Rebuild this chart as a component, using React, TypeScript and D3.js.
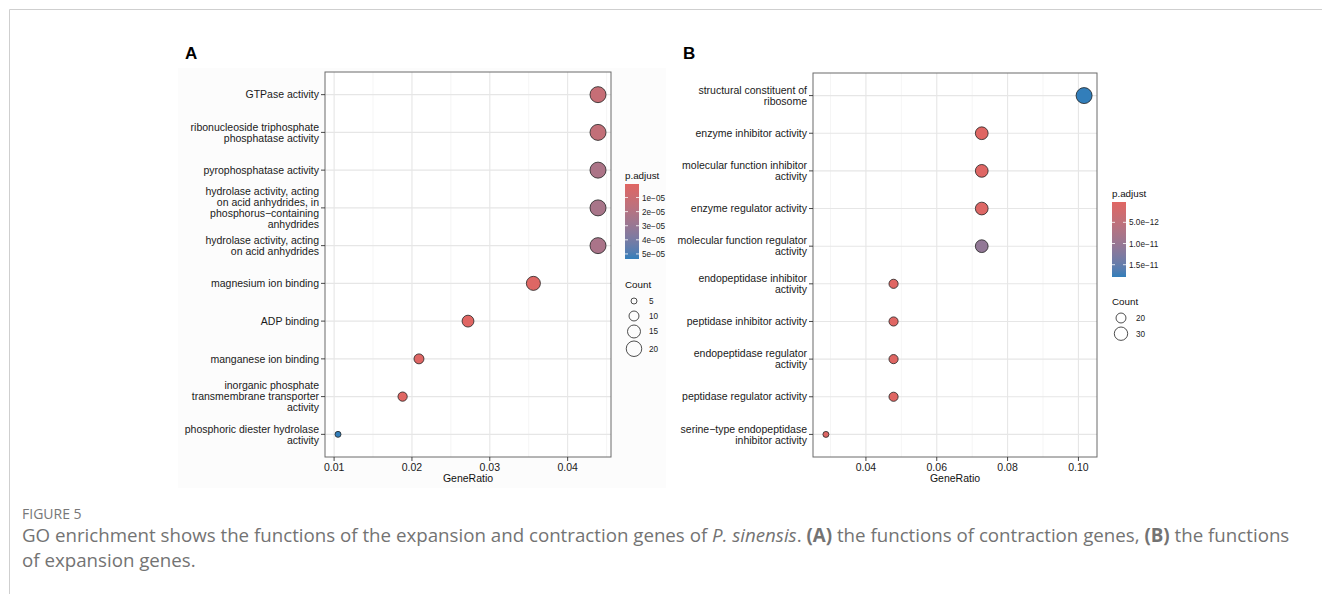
import React, { useEffect, useRef } from "react";
import * as d3 from "d3";

// panel A - contraction genes
const termsA = [
  "GTPase activity",
  "ribonucleoside triphosphate\nphosphatase activity",
  "pyrophosphatase activity",
  "hydrolase activity, acting\non acid anhydrides, in\nphosphorus\u2212containing\nanhydrides",
  "hydrolase activity, acting\non acid anhydrides",
  "magnesium ion binding",
  "ADP binding",
  "manganese ion binding",
  "inorganic phosphate\ntransmembrane transporter\nactivity",
  "phosphoric diester hydrolase\nactivity",
];
const ratioA = [0.0439, 0.0439, 0.0439, 0.0439, 0.0439, 0.0356, 0.0272, 0.0209, 0.0188, 0.0105];
const countA = [21, 21, 21, 21, 21, 17, 13, 10, 9, 5];
const padjA = [1.2e-5, 1.35e-5, 2.25e-5, 2.4e-5, 2.35e-5, 1.2e-6, 6e-7, 9e-7, 4e-7, 5.36e-5];
const xTicksA = [0.01, 0.02, 0.03, 0.04];
const xLabelsA = ["0.01", "0.02", "0.03", "0.04"];
const padjTicksA = [1e-5, 2e-5, 3e-5, 4e-5, 5e-5];
const padjLabelsA = ["1e\u221205", "2e\u221205", "3e\u221205", "4e\u221205", "5e\u221205"];
const countBreaksA = [5, 10, 15, 20];

// panel B - expansion genes
const termsB = [
  "structural constituent of\nribosome",
  "enzyme inhibitor activity",
  "molecular function inhibitor\nactivity",
  "enzyme regulator activity",
  "molecular function regulator\nactivity",
  "endopeptidase inhibitor\nactivity",
  "peptidase inhibitor activity",
  "endopeptidase regulator\nactivity",
  "peptidase regulator activity",
  "serine\u2212type endopeptidase\ninhibitor activity",
];
const ratioB = [0.1016, 0.0727, 0.0727, 0.0727, 0.0727, 0.0478, 0.0478, 0.0478, 0.0478, 0.0287];
const countB = [39, 28, 28, 28, 28, 18, 18, 18, 18, 11];
const padjB = [1.79e-11, 3e-13, 4e-13, 6e-13, 1.07e-11, 2e-13, 2e-13, 3e-13, 3e-13, 5e-13];
const xTicksB = [0.04, 0.06, 0.08, 0.1];
const xLabelsB = ["0.04", "0.06", "0.08", "0.10"];
const padjTicksB = [5e-12, 1e-11, 1.5e-11];
const padjLabelsB = ["5.0e\u221212", "1.0e\u221211", "1.5e\u221211"];
const countBreaksB = [20, 30];

const LOW = "#e06663";
const HIGH = "#327eba";
const FONT = "Liberation Sans, Arial, sans-serif";

function drawPanel(svg: any, o: any) {
  const g = svg.append("g");
  const lo = d3.min(o.ratio) as number;
  const hi = d3.max(o.ratio) as number;
  const pad = (hi - lo) * 0.05;
  const x = d3.scaleLinear().domain([lo - pad, hi + pad]).range([o.left, o.right]);
  const y = d3.scalePoint().domain(o.terms).range([o.top, o.bottom]).padding(0.6);
  const pMin = d3.min(o.padj) as number;
  const pMax = d3.max(o.padj) as number;
  const color = d3.scaleLinear<string>().domain([pMin, pMax]).range([LOW, HIGH]).interpolate(d3.interpolateLab);
  const size = d3.scaleSqrt().domain([d3.min(o.count) as number, d3.max(o.count) as number]).range([3, 8]);

  g.append("text").attr("x", o.tagX).attr("y", o.tagY).attr("font-family", FONT)
    .attr("font-weight", "bold").attr("font-size", 17).attr("fill", "#000").text(o.tag);

  g.append("rect").attr("x", o.left).attr("y", o.top).attr("width", o.right - o.left)
    .attr("height", o.bottom - o.top).attr("fill", "#fff");

  // minor grid
  const step = o.xTicks[1] - o.xTicks[0];
  const dom = x.domain();
  const minor = [o.xTicks[0] - step / 2, ...o.xTicks.map((t: number) => t + step / 2)]
    .filter((v: number) => v > dom[0] && v < dom[1]);
  g.selectAll(".minor").data(minor).enter().append("line")
    .attr("x1", (d: number) => x(d)).attr("x2", (d: number) => x(d))
    .attr("y1", o.top).attr("y2", o.bottom).attr("stroke", "#efefef").attr("stroke-width", 0.6);
  g.selectAll(".majx").data(o.xTicks).enter().append("line")
    .attr("x1", (d: number) => x(d)).attr("x2", (d: number) => x(d))
    .attr("y1", o.top).attr("y2", o.bottom).attr("stroke", "#e6e6e6").attr("stroke-width", 1.1);
  g.selectAll(".majy").data(o.terms).enter().append("line")
    .attr("x1", o.left).attr("x2", o.right)
    .attr("y1", (d: string) => y(d)).attr("y2", (d: string) => y(d))
    .attr("stroke", "#e6e6e6").attr("stroke-width", 1.1);

  // dots
  g.selectAll(".dot").data(o.terms).enter().append("circle")
    .attr("cx", (_d: string, i: number) => x(o.ratio[i]))
    .attr("cy", (d: string) => y(d))
    .attr("r", (_d: string, i: number) => size(o.count[i]))
    .attr("fill", (_d: string, i: number) => color(o.padj[i]))
    .attr("stroke", "#222").attr("stroke-width", 0.8);

  g.append("rect").attr("x", o.left).attr("y", o.top).attr("width", o.right - o.left)
    .attr("height", o.bottom - o.top).attr("fill", "none").attr("stroke", "#6b6b6b").attr("stroke-width", 1);

  // y axis
  const lh = 11;
  o.terms.forEach((t: string) => {
    const yy = y(t) as number;
    g.append("line").attr("x1", o.left - 4).attr("x2", o.left).attr("y1", yy).attr("y2", yy)
      .attr("stroke", "#333").attr("stroke-width", 0.9);
    const lines = t.split("\n");
    const txt = g.append("text").attr("font-family", FONT).attr("font-size", 10.5)
      .attr("fill", "#1a1a1a").attr("text-anchor", "end");
    lines.forEach((l, k) => {
      txt.append("tspan").attr("x", o.left - 6)
        .attr("y", yy + (k - (lines.length - 1) / 2) * lh + 3.7).text(l);
    });
  });

  // x axis
  o.xTicks.forEach((t: number, i: number) => {
    g.append("line").attr("x1", x(t)).attr("x2", x(t)).attr("y1", o.bottom).attr("y2", o.bottom + 4)
      .attr("stroke", "#333").attr("stroke-width", 0.9);
    g.append("text").attr("x", x(t)).attr("y", o.bottom + 14).attr("text-anchor", "middle")
      .attr("font-family", FONT).attr("font-size", 10.5).attr("fill", "#1a1a1a").text(o.xLabels[i]);
  });
  g.append("text").attr("x", (o.left + o.right) / 2).attr("y", o.bottom + 25)
    .attr("text-anchor", "middle").attr("font-family", FONT).attr("font-size", 10.5)
    .attr("fill", "#111").text("GeneRatio");

  // colour bar
  const gid = "grad" + o.tag;
  const grad = svg.append("defs").append("linearGradient").attr("id", gid)
    .attr("x1", 0).attr("x2", 0).attr("y1", 0).attr("y2", 1);
  d3.range(0, 1.0001, 0.1).forEach((s) => {
    grad.append("stop").attr("offset", s).attr("stop-color", color(pMin + s * (pMax - pMin)));
  });
  const lx = o.legendX;
  g.append("text").attr("x", lx).attr("y", o.barTop - 5).attr("font-family", FONT)
    .attr("font-size", 9.8).attr("fill", "#111").text("p.adjust");
  g.append("rect").attr("x", lx).attr("y", o.barTop).attr("width", 14).attr("height", 75)
    .attr("fill", `url(#${gid})`);
  const py = d3.scaleLinear().domain([pMin, pMax]).range([o.barTop, o.barTop + 75]);
  o.padjTicks.forEach((t: number, i: number) => {
    const yy = py(t);
    g.append("line").attr("x1", lx).attr("x2", lx + 3).attr("y1", yy).attr("y2", yy)
      .attr("stroke", "#fff").attr("stroke-width", 0.8);
    g.append("line").attr("x1", lx + 11).attr("x2", lx + 14).attr("y1", yy).attr("y2", yy)
      .attr("stroke", "#fff").attr("stroke-width", 0.8);
    g.append("text").attr("x", lx + 17).attr("y", yy + 3).attr("font-family", FONT)
      .attr("font-size", 8.2).attr("fill", "#222").text(o.padjLabels[i]);
  });

  // size legend
  g.append("text").attr("x", lx).attr("y", o.countTop).attr("font-family", FONT)
    .attr("font-size", 9.8).attr("fill", "#111").text("Count");
  let cy = o.countTop + 13;
  let prevH = 0;
  o.countBreaks.forEach((c: number, i: number) => {
    const r = size(c);
    const h = Math.max(15, 2 * r + 3);
    cy += i === 0 ? 0 : prevH / 2 + h / 2;
    prevH = h;
    g.append("circle").attr("cx", lx + 9).attr("cy", cy).attr("r", r)
      .attr("fill", "none").attr("stroke", "#222").attr("stroke-width", 0.8);
    g.append("text").attr("x", lx + 24).attr("y", cy + 3).attr("font-family", FONT)
      .attr("font-size", 8.2).attr("fill", "#222").text(String(c));
  });
}

export default function App() {
  const ref = useRef<SVGSVGElement>(null);

  useEffect(() => {
    const svg = d3.select(ref.current);
    svg.selectAll("*").remove();

    svg.append("line").attr("x1", 9.5).attr("x2", 1322).attr("y1", 9.5).attr("y2", 9.5)
      .attr("stroke", "#cfcfcf");
    svg.append("line").attr("x1", 9.5).attr("x2", 9.5).attr("y1", 9.5).attr("y2", 594)
      .attr("stroke", "#cfcfcf");
    svg.append("rect").attr("x", 178).attr("y", 68).attr("width", 488).attr("height", 420)
      .attr("fill", "#fcfcfc");

    drawPanel(svg, {
      tag: "A", tagX: 185, tagY: 59, terms: termsA, ratio: ratioA, count: countA, padj: padjA,
      xTicks: xTicksA, xLabels: xLabelsA, padjTicks: padjTicksA, padjLabels: padjLabelsA,
      countBreaks: countBreaksA, left: 325, right: 611, top: 72, bottom: 457,
      legendX: 625, barTop: 184, countTop: 288,
    });
    drawPanel(svg, {
      tag: "B", tagX: 683, tagY: 59, terms: termsB, ratio: ratioB, count: countB, padj: padjB,
      xTicks: xTicksB, xLabels: xLabelsB, padjTicks: padjTicksB, padjLabels: padjLabelsB,
      countBreaks: countBreaksB, left: 813, right: 1097, top: 73, bottom: 457,
      legendX: 1112, barTop: 202, countTop: 305,
    });

    // caption
    const capFont = "Open Sans, Lato, sans-serif";
    svg.append("text").attr("x", 22).attr("y", 519).attr("font-family", capFont)
      .attr("font-size", 14).attr("fill", "#777").text("FIGURE 5");
    const l1 = svg.append("text").attr("x", 22).attr("y", 542).attr("font-family", capFont)
      .attr("font-size", 16.5).attr("fill", "#737373");
    l1.append("tspan").text("GO enrichment shows the functions of the expansion and contraction genes of ");
    l1.append("tspan").attr("font-style", "italic").text("P. sinensis");
    l1.append("tspan").text(". ");
    l1.append("tspan").attr("font-weight", "bold").text("(A)");
    l1.append("tspan").text(" the functions of contraction genes, ");
    l1.append("tspan").attr("font-weight", "bold").text("(B)");
    l1.append("tspan").text(" the functions");
    const l2 = svg.append("text").attr("x", 22).attr("y", 567).attr("font-family", capFont)
      .attr("font-size", 16.5).attr("fill", "#737373").text("of expansion genes.");
    const w = (l1.node() as SVGTextElement).getComputedTextLength();
    if (w > 0) {
      const fs = 16.5 * 1268 / w;
      l1.attr("font-size", fs);
      l2.attr("font-size", fs);
    }
  }, []);

  return (
    <div style={{ position: "absolute", left: 0, top: 0 }}>
      <svg ref={ref} width={1322} height={594} style={{ display: "block", background: "#fff" }} />
    </div>
  );
}
